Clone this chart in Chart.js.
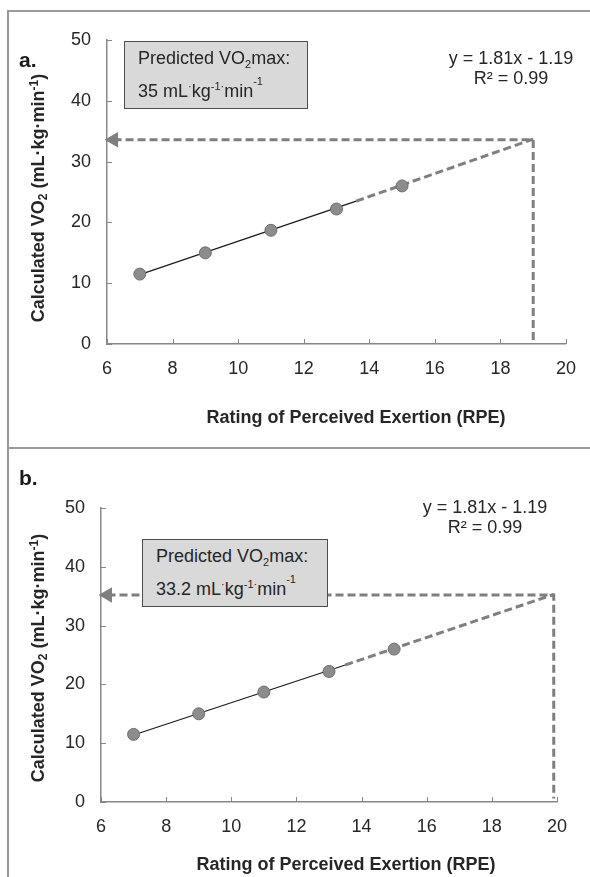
<!DOCTYPE html>
<html>
<head>
<meta charset="utf-8">
<script src="https://cdn.jsdelivr.net/npm/chart.js@4.4.1/dist/chart.umd.min.js"></script>
<style>
    body { margin: 0; background: #fff; font-family: "Liberation Sans", Arial, sans-serif; color: #262626; }
    #page { position: relative; width: 590px; height: 877px; overflow: hidden; }
    .panel { position: absolute; left: 0; width: 590px; }
    .rule { position: absolute; background: #9a9a9a; }
    .tag { position: absolute; font-weight: bold; font-size: 21px; color: #1a1a1a; }
    .eq { position: absolute; width: 160px; text-align: center; font-size: 18px; line-height: 20px; }
    .box { position: absolute; background: #d9d9d9; border: 1px solid #4d4d4d; box-sizing: border-box; font-size: 18px; }
    .box div { position: absolute; left: 13px; white-space: nowrap; }
    .box sub { font-size: 11px; vertical-align: -4px; }
    .box sup { font-size: 11px; vertical-align: 7px; }
    .box sup.hi { vertical-align: 12px; }
    .xtitle { position: absolute; width: 400px; text-align: center; font-weight: bold; font-size: 18px; }
    .ytitle { position: absolute; width: 300px; text-align: center; font-weight: bold; font-size: 18px; white-space: nowrap;
              transform: translate(-50%, -50%) rotate(-90deg); }
    .ytitle sub { font-size: 12px; vertical-align: -3px; }
    .ytitle sup { font-size: 12px; vertical-align: 6px; }
</style>
</head>
<body>
<div id="page">
    <div class="panel" style="top:0; height:447px;"><canvas id="chartA"></canvas></div>
    <div class="panel" style="top:447px; height:430px;"><canvas id="chartB"></canvas></div>

    <!-- cornici -->
    <div class="rule" style="left:7px; top:10px; width:2px; height:867px;"></div>
    <div class="rule" style="left:7px; top:10px; width:583px; height:2px;"></div>
    <div class="rule" style="left:7px; top:447px; width:583px; height:2px;"></div>

    <!-- pannello a -->
    <div class="tag" style="left:19px; top:48px;">a.</div>
    <div class="box" style="left:124px; top:41px; width:184px; height:68px;">
        <div style="top:6px;">Predicted VO<sub>2</sub>max:</div>
        <div style="top:33px;">35 mL<sup>·</sup>kg<sup>-1</sup><sup>·</sup>min<sup class="hi">-1</sup></div>
    </div>
    <div class="eq" style="left:431px; top:48px;">y = 1.81x - 1.19<br>R² = 0.99</div>
    <div class="xtitle" style="left:156px; top:407px;">Rating of Perceived Exertion (RPE)</div>
    <div class="ytitle" style="left:38px; top:198px;">Calculated VO<sub>2</sub> (mL·kg·min<sup>-1</sup>)</div>

    <!-- pannello b -->
    <div class="tag" style="left:19px; top:466px;">b.</div>
    <div class="box" style="left:142px; top:539px; width:186px; height:68px;">
        <div style="top:6px;">Predicted VO<sub>2</sub>max:</div>
        <div style="top:33px;">33.2 mL<sup>·</sup>kg<sup>-1</sup><sup>·</sup>min<sup class="hi">-1</sup></div>
    </div>
    <div class="eq" style="left:405px; top:497px;">y = 1.81x - 1.19<br>R² = 0.99</div>
    <div class="xtitle" style="left:146px; top:854px;">Rating of Perceived Exertion (RPE)</div>
    <div class="ytitle" style="left:38px; top:658px;">Calculated VO<sub>2</sub> (mL·kg·min<sup>-1</sup>)</div>
</div>

<script>
// DATI
const rpe = [7, 9, 11, 13, 15];
const vo2 = [11.5, 15.0, 18.7, 22.2, 26.0];
const xTicks = [6, 8, 10, 12, 14, 16, 18, 20];
const yTicks = [0, 10, 20, 30, 40, 50];

// linea di tendenza (parte continua) e proiezione tratteggiata
const fitA_x = [7, 13.6];
const fitA_y = [11.4, 23.5];
const extA_x = [13.6, 19];
const extA_y = [23.5, 33.7];
const arrowA_x = [6.2, 19, 19];
const arrowA_y = [33.6, 33.6, 0];

const fitB_x = [7, 13.5];
const fitB_y = [11.4, 23.3];
const extB_x = [13.5, 19.9];
const extB_y = [23.3, 35.3];
const arrowB_x = [6.2, 19.9, 19.9];
const arrowB_y = [35.2, 35.2, 0.6];

const AXIS = '#888888';
const DASH = '#7f7f7f';

function pts(xs, ys) {
    return xs.map((x, i) => ({ x: x, y: ys[i] }));
}

// tacche interne sugli assi
const innerTicks = {
    id: 'innerTicks',
    afterDraw(chart) {
        const ctx = chart.ctx;
        const xs = chart.scales.x, ys = chart.scales.y;
        const a = chart.chartArea;
        ctx.save();
        ctx.strokeStyle = AXIS;
        ctx.lineWidth = 1;
        xTicks.forEach(v => {
            const px = Math.round(xs.getPixelForValue(v)) + 0.5;
            ctx.beginPath();
            ctx.moveTo(px, a.bottom);
            ctx.lineTo(px, a.bottom - 5);
            ctx.stroke();
        });
        yTicks.forEach(v => {
            const py = Math.round(ys.getPixelForValue(v)) + 0.5;
            ctx.beginPath();
            ctx.moveTo(a.left, py);
            ctx.lineTo(a.left + 5, py);
            ctx.stroke();
        });
        ctx.restore();
    }
};

function makeChart(id, pad, fit, ext, arrow) {
    const ctx = document.getElementById(id).getContext('2d');
    return new Chart(ctx, {
        type: 'scatter',
        data: {
            datasets: [{
                data: pts(rpe, vo2),
                backgroundColor: '#8c8c8c',
                borderColor: '#6e6e6e',
                borderWidth: 1,
                pointRadius: 6
            }, {
                data: fit,
                showLine: true,
                borderColor: '#1a1a1a',
                borderWidth: 1.2,
                pointRadius: 0
            }, {
                data: ext,
                showLine: true,
                borderColor: DASH,
                borderWidth: 3,
                borderDash: [8, 4],
                pointRadius: 0
            }, {
                data: arrow,
                showLine: true,
                borderColor: DASH,
                borderWidth: 3,
                borderDash: [8, 4],
                pointStyle: 'triangle',
                pointRotation: -90,
                pointRadius: [6, 0, 0],
                pointBackgroundColor: DASH,
                pointBorderColor: DASH,
                clip: false
            }]
        },
        options: {
            responsive: true,
            maintainAspectRatio: false,
            animation: false,
            events: [],
            layout: { padding: pad },
            plugins: { legend: { display: false }, tooltip: { enabled: false } },
            scales: {
                x: {
                    type: 'linear',
                    min: 6, max: 20,
                    afterBuildTicks: s => { s.ticks = xTicks.map(v => ({ value: v })); },
                    afterFit: s => { s.height = 30; },
                    grid: { drawOnChartArea: false, drawTicks: false },
                    border: { color: AXIS, width: 1.5 },
                    ticks: { color: '#262626', padding: 14, font: { family: 'Liberation Sans', size: 18 } }
                },
                y: {
                    type: 'linear',
                    min: 0, max: 50,
                    afterBuildTicks: s => { s.ticks = yTicks.map(v => ({ value: v })); },
                    afterFit: s => { s.width = 50; },
                    grid: { drawOnChartArea: false, drawTicks: false },
                    border: { color: AXIS, width: 1.5 },
                    ticks: { color: '#262626', padding: 16, font: { family: 'Liberation Sans', size: 18 } }
                }
            }
        },
        plugins: [innerTicks]
    });
}

makeChart('chartA', { left: 57, right: 22, top: 40, bottom: 73 },
    pts(fitA_x, fitA_y), pts(extA_x, extA_y), pts(arrowA_x, arrowA_y));
makeChart('chartB', { left: 51, right: 33, top: 61, bottom: 45 },
    pts(fitB_x, fitB_y), pts(extB_x, extB_y), pts(arrowB_x, arrowB_y));
</script>
</body>
</html>
